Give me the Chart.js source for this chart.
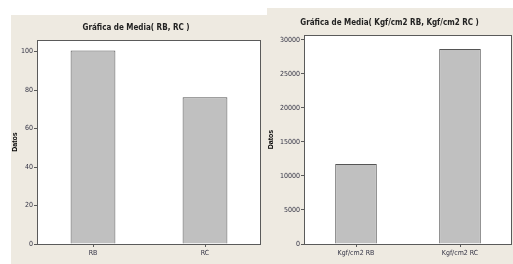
<!DOCTYPE html>
<html>
<head>
<meta charset="utf-8">
<script src="https://cdn.jsdelivr.net/npm/chart.js@4"></script>
<style>
html, body { margin: 0; padding: 0; background: #ffffff; overflow: hidden; width: 513px; height: 264px; }
.panel { position: absolute; background: #eeeae1; }
#leftPanel { left: 11px; top: 15px; width: 260px; height: 249px; }
#rightPanel { left: 267px; top: 8px; width: 262px; height: 256px; }
</style>
</head>
<body>
<div class="panel" id="leftPanel"><canvas id="leftChart"></canvas></div>
<div class="panel" id="rightPanel"><canvas id="rightChart"></canvas></div>
<script>
// data
const leftCategories = ['RB', 'RC'];
const leftMeans = [100.5, 76.3];
const leftTicks = [0, 20, 40, 60, 80, 100];
const leftMax = 106;

const rightCategories = ['Kgf/cm2 RB', 'Kgf/cm2 RC'];
const rightMeans = [11750, 28650];
const rightTicks = [0, 5000, 10000, 15000, 20000, 25000, 30000];
const rightMax = 30700;

const smallFont = "'Liberation Sans Narrow', 'DejaVu Sans Condensed', sans-serif";

// white plot area with a dark frame
const plotFrame = {
    id: 'plotFrame',
    beforeDatasetsDraw(chart) {
        const a = chart.chartArea;
        const ctx = chart.ctx;
        ctx.save();
        ctx.fillStyle = '#ffffff';
        ctx.fillRect(a.left, a.top, a.right - a.left, a.bottom - a.top);
        ctx.restore();
    },
    afterDatasetsDraw(chart) {
        const a = chart.chartArea;
        const ctx = chart.ctx;
        ctx.save();
        ctx.strokeStyle = '#5a5a5a';
        ctx.lineWidth = 1;
        ctx.strokeRect(a.left + 0.5, a.top + 0.5, a.right - a.left - 1, a.bottom - a.top);
        ctx.restore();
    }
};

function makeChart(id, title, labels, values, tickValues, max, opts) {
    return new Chart(document.getElementById(id).getContext('2d'), {
        type: 'bar',
        data: {
            labels: labels,
            datasets: [{
                data: values,
                backgroundColor: '#c0c0c0',
                borderColor: '#555555',
                borderWidth: 1,
                barPercentage: 0.4,
                categoryPercentage: 1
            }]
        },
        options: {
            responsive: true,
            maintainAspectRatio: false,
            animation: false,
            layout: { padding: { left: 0, right: opts.right, top: 0, bottom: 0 } },
            plugins: {
                legend: { display: false },
                tooltip: { enabled: false },
                title: {
                    display: true,
                    text: title,
                    color: '#222222',
                    font: { family: smallFont, size: 8, weight: 'bold', lineHeight: 1.5 },
                    padding: { top: opts.titleTop, bottom: 6 }
                }
            },
            scales: {
                x: {
                    offset: true,
                    grid: { display: true, drawOnChartArea: false, offset: false, tickLength: 3, color: '#5a5a5a' },
                    border: { display: false },
                    ticks: { color: '#333344', padding: 2, font: { family: smallFont, size: 7 } },
                    afterFit(scale) { scale.height = 20; }
                },
                y: {
                    min: 0,
                    max: max,
                    grid: { display: true, drawOnChartArea: false, tickLength: 3, color: '#5a5a5a' },
                    border: { display: false },
                    ticks: {
                        color: '#333344',
                        padding: 1,
                        font: { family: smallFont, size: 7 },
                        callback: function(value) { return String(value); }
                    },
                    afterBuildTicks(scale) {
                        scale.ticks = tickValues.map(v => ({ value: v }));
                    },
                    title: {
                        display: true,
                        text: 'Datos',
                        color: '#000000',
                        padding: { top: 0, bottom: 0 },
                        font: { family: 'Liberation Sans, Arial, sans-serif', size: 7, weight: 'bold' }
                    },
                    afterFit(scale) { scale.width = opts.yWidth; }
                }
            }
        },
        plugins: [plotFrame]
    });
}

makeChart('leftChart', 'Gráfica de Media( RB, RC )', leftCategories, leftMeans, leftTicks, leftMax,
    { right: 10, titleTop: 7, yWidth: 26 });

makeChart('rightChart', 'Gráfica de Media( Kgf/cm2 RB, Kgf/cm2 RC )', rightCategories, rightMeans, rightTicks, rightMax,
    { right: 17, titleTop: 9, yWidth: 37 });
</script>
</body>
</html>
